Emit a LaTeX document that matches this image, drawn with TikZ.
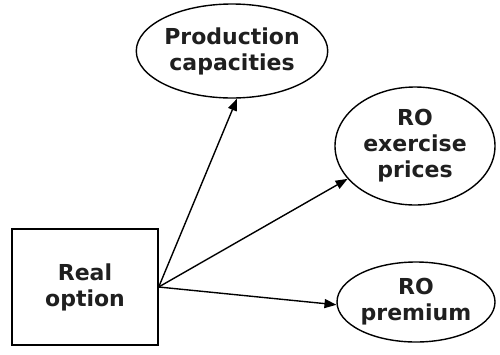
\documentclass[tikz,border=0pt]{standalone}
\usepackage{fontspec}
\setmainfont{DejaVu Sans}
\usetikzlibrary{shapes.geometric,arrows.meta}
\begin{document}
\begin{tikzpicture}[x=1pt,y=-1pt,
  lbl/.style={font=\fontsize{22}{26}\selectfont\bfseries, text=black!88, align=center},
  oval/.style={draw, line width=1.4pt, ellipse, inner sep=0pt, lbl},
  rbox/.style={draw, line width=1.4pt, rectangle, inner sep=0pt, lbl},
  link/.style={line width=1.4pt, -{Triangle[length=12pt,width=9pt]}}]
\useasboundingbox (0,0) rectangle (500,354);
\node[rbox, minimum width=146pt, minimum height=116pt] (ro) at (85,287) {Real\\option};
\node[oval, minimum width=190pt, minimum height=94pt] (prod) at (232,51) {Production\\capacities};
\node[oval, minimum width=160pt, minimum height=118pt] (ex) at (415,146) {RO\\exercise\\prices};
\node[oval, minimum width=158pt, minimum height=80pt] (prem) at (416,302) {RO\\premium};
\draw[link] (ro.east) -- (prod.-84);
\draw[link] (ro.east) -- (ex.206);
\draw[link] (ro.east) -- (prem.182);
\end{tikzpicture}
\end{document}
